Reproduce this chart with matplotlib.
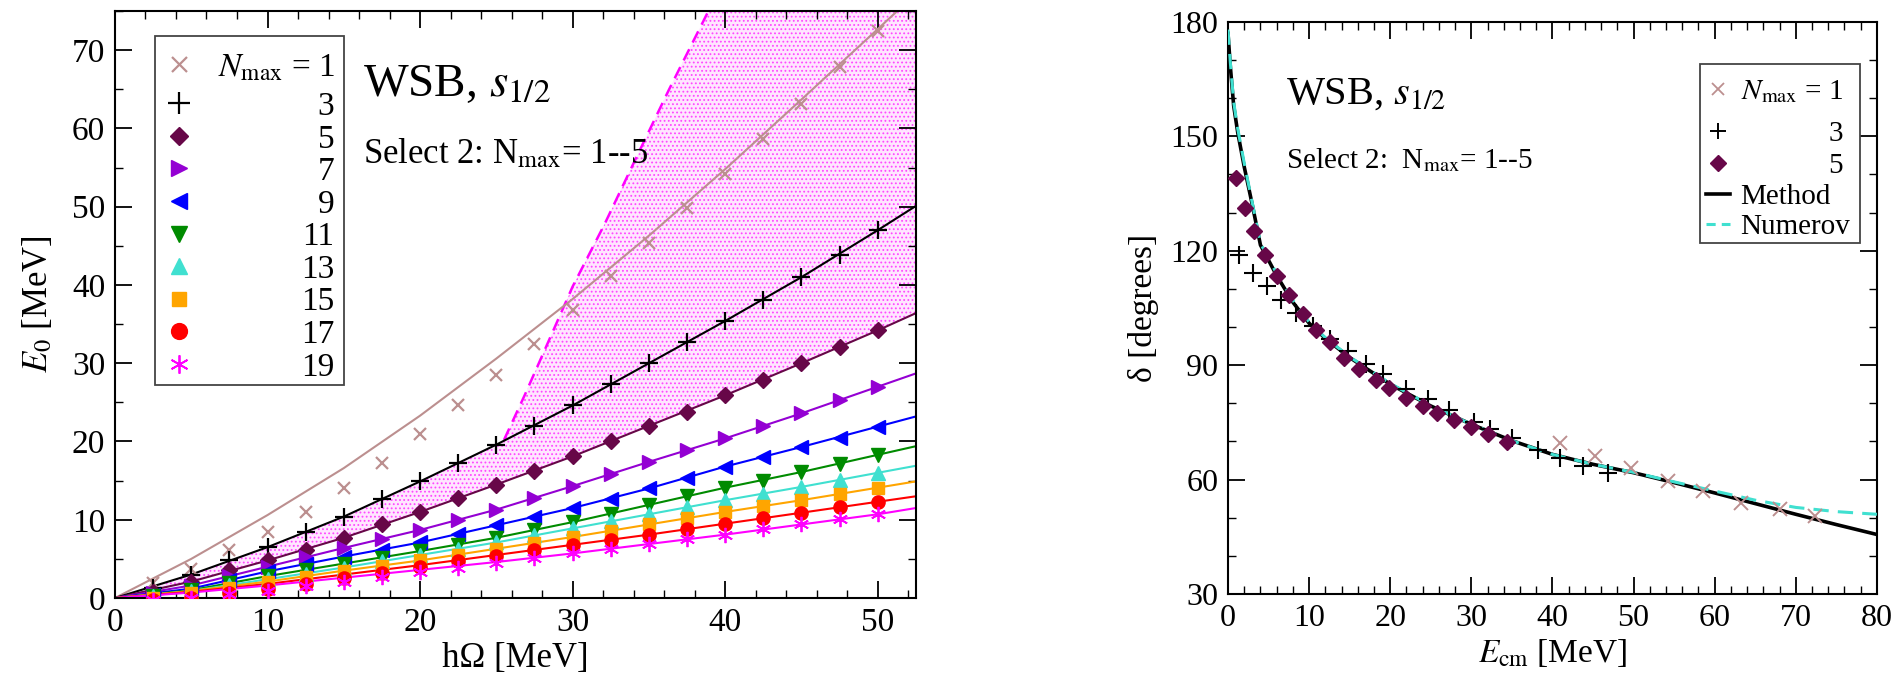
import numpy as np
import matplotlib
matplotlib.use("Agg")
import matplotlib.pyplot as plt
from matplotlib.patches import Rectangle
from matplotlib.ticker import MultipleLocator

plt.rcParams["font.family"] = ["Liberation Serif", "DejaVu Serif"]
plt.rcParams["mathtext.fontset"] = "stix"
plt.rcParams["hatch.color"] = "#ff48ff"
plt.rcParams["hatch.linewidth"] = 0.8

# ---- left panel: ground-state energy E0 vs hbar*Omega ----
hw = [2.5, 5, 7.5, 10, 12.5, 15, 17.5, 20, 22.5, 25,
      27.5, 30, 32.5, 35, 37.5, 40, 42.5, 45, 47.5, 50]
hw_line = [0, 5, 10, 15, 20, 25, 30, 35, 40, 45, 50, 52.5]

nmax = [1, 3, 5, 7, 9, 11, 13, 15, 17, 19]

e0_n1 = [1.9, 3.7, 6.2, 8.5, 11.0, 14.1, 17.3, 20.9, 24.6, 28.5,
         32.5, 36.8, 41.2, 45.4, 49.8, 54.2, 58.7, 63.1, 67.8, 72.5]
e0_n3 = [1.3, 2.9, 4.8, 6.5, 8.5, 10.4, 12.6, 14.9, 17.3, 19.6,
         22.0, 24.6, 27.4, 30.0, 32.7, 35.4, 38.1, 41.0, 43.8, 47.0]
e0_n5 = [0.8, 2.1, 3.6, 4.8, 6.2, 7.7, 9.4, 11.0, 12.8, 14.5,
         16.2, 18.1, 20.0, 22.0, 23.8, 25.9, 27.9, 30.0, 32.1, 34.2]
e0_n7 = [0.6, 1.6, 2.8, 4.0, 5.2, 6.4, 7.5, 8.7, 10.0, 11.3,
         12.8, 14.3, 15.8, 17.4, 18.9, 20.4, 22.0, 23.6, 25.3, 27.0]
e0_n9 = [0.4, 1.2, 2.3, 3.4, 4.4, 5.3, 6.2, 7.1, 8.2, 9.3,
         10.4, 11.5, 12.7, 14.0, 15.3, 16.8, 18.0, 19.3, 20.5, 21.9]
e0_n11 = [0.3, 1.0, 1.9, 2.8, 3.6, 4.4, 5.1, 6.0, 6.8, 7.7,
          8.7, 9.7, 10.8, 11.9, 13.0, 14.1, 15.0, 16.1, 17.1, 18.3]
e0_n13 = [0.2, 0.9, 1.7, 2.4, 3.1, 3.9, 4.7, 5.5, 6.3, 7.1,
          8.0, 8.9, 9.8, 10.7, 11.6, 12.5, 13.3, 14.2, 15.1, 16.0]
e0_n15 = [0.0, 0.6, 1.3, 2.0, 2.7, 3.4, 4.1, 4.8, 5.5, 6.3,
          7.0, 7.8, 8.6, 9.4, 10.2, 11.0, 11.8, 12.5, 13.3, 14.1]
e0_n17 = [-0.3, 0.0, 0.6, 1.1, 1.8, 2.5, 3.2, 4.0, 4.7, 5.4,
          6.1, 6.8, 7.4, 8.1, 8.8, 9.5, 10.2, 10.9, 11.6, 12.3]
e0_n19 = [-0.2, 0.0, 0.5, 0.9, 1.5, 2.1, 2.7, 3.3, 3.9, 4.5,
          5.1, 5.7, 6.3, 6.9, 7.5, 8.1, 8.8, 9.4, 10.1, 10.7]

fit_n1 = [0, 5.0, 10.6, 16.6, 23.3, 30.6, 38.2, 46.3, 54.8, 63.7, 72.7, 77.2]
fit_n3 = [0, 3.0, 6.5, 10.4, 14.9, 19.6, 24.6, 30.0, 35.4, 41.0, 47.0, 50.1]
fit_n5 = [0, 2.1, 4.8, 7.7, 11.0, 14.5, 18.1, 22.0, 25.9, 30.0, 34.2, 36.4]
fit_n7 = [0, 1.6, 4.0, 6.4, 8.7, 11.3, 14.3, 17.4, 20.4, 23.6, 27.0, 28.7]
fit_n9 = [0, 1.2, 3.4, 5.3, 7.1, 9.3, 11.5, 14.0, 16.8, 19.3, 21.9, 23.2]
fit_n11 = [0, 1.0, 2.8, 4.4, 6.0, 7.7, 9.7, 11.9, 14.1, 16.1, 18.3, 19.4]
fit_n13 = [0, 0.9, 2.4, 3.9, 5.5, 7.1, 8.9, 10.7, 12.5, 14.2, 16.0, 16.9]
fit_n15 = [0, 0.9, 2.1, 3.5, 4.8, 6.3, 7.8, 9.4, 11.0, 12.5, 14.1, 14.9]
fit_n17 = [0, 0.8, 1.8, 3.0, 4.2, 5.5, 6.8, 8.1, 9.5, 10.9, 12.3, 13.0]
fit_n19 = [0, 0.7, 1.6, 2.6, 3.6, 4.6, 5.7, 6.9, 8.1, 9.4, 10.7, 11.5]

# edge of the shaded band (dashed magenta)
edge_x = [25.5, 26.9, 28.6, 30.0, 32.1, 34.2, 36.3, 38.9, 52.5]
edge_y = [20.2, 26.1, 33.6, 39.8, 47.8, 56.4, 64.9, 75.0, 75.0]

# ---- right panel: phase shift vs E_cm ----
ecm_curve = [0, 0.3, 0.7, 1.2, 2, 3, 4, 5, 6, 8, 10, 12, 15, 20, 25,
             30, 35, 40, 45, 50, 55, 60, 65, 70, 75, 80]
delta_method = [177, 168, 158, 151, 142, 132, 121.5, 117.5, 113.5, 106.5,
                101, 97, 92, 85, 79.3, 74.5, 70.2, 66.6, 64.0, 61.8,
                59.2, 56.5, 53.7, 50.9, 48.2, 45.6]
delta_numerov = [178, 169, 159, 152, 143, 132.5, 122, 118, 114, 107,
                 101.3, 97.2, 92.2, 85.2, 79.4, 74.5, 70.2, 66.6, 64.0, 61.9,
                 59.4, 57.0, 54.6, 52.7, 51.6, 50.9]

ecm_n1 = [40.9, 45.3, 49.7, 54.2, 58.6, 63.3, 68.0, 72.4]
delta_n1 = [69.6, 66.1, 63.0, 59.6, 57.0, 53.9, 52.2, 50.4]
ecm_n3 = [1.4, 3.1, 4.8, 6.5, 8.4, 10.5, 12.6, 14.8, 17.0, 19.1,
          22.0, 24.7, 27.3, 30.3, 32.3, 35.0, 38.2, 40.9, 43.8, 46.8]
delta_n3 = [119.0, 114.2, 110.7, 107.2, 103.7, 100.2, 96.8, 93.6, 90.4, 87.6,
            83.8, 81.0, 78.3, 75.2, 73.2, 71.0, 67.8, 65.7, 63.5, 61.7]
ecm_n5 = [0.94, 2.1, 3.2, 4.5, 6.0, 7.5, 9.2, 10.9, 12.6, 14.3,
          16.1, 18.2, 19.9, 22.0, 24.1, 25.8, 27.9, 30.0, 32.0, 34.4]
delta_n5 = [139.2, 131.3, 125.2, 119.0, 113.3, 108.5, 103.3, 99.3, 96.0, 91.8,
            89.0, 86.0, 84.0, 81.5, 79.3, 77.5, 75.5, 73.7, 72.0, 69.8]

BROWN = "#bc8f8f"
MAROON = "#670748"
TURQ = "#40e0d0"
MAGENTA = "#ff00ff"
STAR = (6, 2, 0)

left_series = [
    (e0_n1, fit_n1, BROWN, "x", 9, 1.6),
    (e0_n3, fit_n3, "black", "+", 13, 1.6),
    (e0_n5, fit_n5, MAROON, "D", 8, 1),
    (e0_n7, fit_n7, "#9400d3", ">", 10, 1),
    (e0_n9, fit_n9, "#0000ff", "<", 10, 1),
    (e0_n11, fit_n11, "#008b00", "v", 10, 1),
    (e0_n13, fit_n13, TURQ, "^", 10, 1),
    (e0_n15, fit_n15, "#ffa500", "s", 8.5, 1),
    (e0_n17, fit_n17, "#ff0000", "o", 9.5, 1),
    (e0_n19, fit_n19, MAGENTA, STAR, 11, 1.3),
]


def style_axes(ax):
    ax.tick_params(which="both", direction="in", top=True, right=True,
                   labelsize=24, pad=7)
    ax.tick_params(which="major", length=12, width=1.3)
    ax.tick_params(which="minor", length=6, width=1.0)
    for sp in ax.spines.values():
        sp.set_linewidth(1.5)


fig = plt.figure(figsize=(19.03, 6.73), dpi=100)
axL = fig.add_axes([0.0604, 0.1114, 0.4209, 0.8722])
axR = fig.add_axes([0.6453, 0.1174, 0.3410, 0.8500])

# shaded band: above N=5 fit, below N=3 fit / dashed edge
poly_x = list(hw_line[:6]) + edge_x + list(hw_line[::-1])
poly_y = list(fit_n3[:6]) + edge_y + list(fit_n5[::-1])
axL.fill(poly_x, poly_y, facecolor="#ffe6ff", edgecolor="#ff48ff",
         hatch="....", linewidth=0, zorder=1)
axL.plot(edge_x[:-1], edge_y[:-1], color=MAGENTA, ls=(0, (5, 3)), lw=1.8,
         zorder=2)

for pts, fit, col, mk, ms, mew in left_series:
    axL.plot(hw_line, fit, color=col, lw=1.5, zorder=2)
    axL.plot(hw, pts, ls="none", marker=mk, ms=ms, mew=mew, color=col,
             zorder=3)

axL.set_xlim(0, 52.5)
axL.set_ylim(0, 75)
axL.xaxis.set_major_locator(MultipleLocator(10))
axL.xaxis.set_minor_locator(MultipleLocator(2))
axL.yaxis.set_major_locator(MultipleLocator(10))
axL.yaxis.set_minor_locator(MultipleLocator(5))
style_axes(axL)
axL.set_xlabel("hΩ [MeV]", fontsize=25, labelpad=3)
axL.set_ylabel("$E_0$ [MeV]", fontsize=25, labelpad=12)

axL.text(0.31, 0.856, "WSB, $s_{1/2}$", transform=axL.transAxes,
         fontsize=34, va="baseline")
axL.text(0.31, 0.741, "Select 2: N$_{\\rm max}$= 1--5",
         transform=axL.transAxes, fontsize=25, va="baseline")

# hand-drawn key, left panel
axL.add_patch(Rectangle((0.050, 0.363), 0.236, 0.594, transform=axL.transAxes,
                        facecolor="white", edgecolor="#444444", lw=1.3,
                        zorder=5))
key_rows = [0.909] + [0.843 - 0.0555 * i for i in range(9)]
for i, (pts, fit, col, mk, ms, mew) in enumerate(left_series):
    axL.plot([0.080], [key_rows[i]], transform=axL.transAxes, ls="none",
             marker=mk, ms=ms * 1.2, mew=mew, color=col, zorder=6,
             clip_on=False)
    lab = "$N_{\\rm max}$ = %d" % nmax[i] if i == 0 else "%d" % nmax[i]
    axL.text(0.274, key_rows[i], lab, transform=axL.transAxes, fontsize=24,
             ha="right", va="center_baseline", zorder=6)

# ---- right panel ----
axR.plot(ecm_curve, delta_method, color="black", lw=2.6, zorder=2)
axR.plot(ecm_curve, delta_numerov, color=TURQ, lw=2.2, ls=(0, (5, 3)),
         zorder=3)
axR.plot(ecm_n1, delta_n1, ls="none", marker="x", ms=10, mew=1.4,
         color=BROWN, zorder=4)
axR.plot(ecm_n3, delta_n3, ls="none", marker="+", ms=13, mew=1.5,
         color="black", zorder=4)
axR.plot(ecm_n5, delta_n5, ls="none", marker="D", ms=8.5, color=MAROON,
         zorder=4)

axR.set_xlim(0, 80)
axR.set_ylim(30, 180)
axR.xaxis.set_major_locator(MultipleLocator(10))
axR.xaxis.set_minor_locator(MultipleLocator(2))
axR.yaxis.set_major_locator(MultipleLocator(30))
axR.yaxis.set_minor_locator(MultipleLocator(10))
style_axes(axR)
axR.tick_params(labelsize=23)
axR.set_xlabel("$E_{\\rm cm}$ [MeV]", fontsize=24, labelpad=3)
axR.set_ylabel("δ [degrees]", fontsize=24, labelpad=8)

axR.text(0.09, 0.858, "WSB, $s_{1/2}$", transform=axR.transAxes,
         fontsize=29, va="baseline")
axR.text(0.09, 0.745, "Select 2:  N$_{\\rm max}$= 1--5",
         transform=axR.transAxes, fontsize=21, va="baseline")

# hand-drawn key, right panel: text column first, then size the box to it
rkey = [0.883, 0.810, 0.754, 0.700, 0.646]
tx = 0.790
kx = 0.755
t_head = axR.text(tx, rkey[0], "$N_{\\rm max}$ = 1", transform=axR.transAxes,
                  fontsize=21, ha="left", va="center_baseline", zorder=6)
t_num = axR.text(tx, rkey[4], "Numerov", transform=axR.transAxes,
                 fontsize=21, ha="left", va="center_baseline", zorder=6)
axR.text(tx, rkey[3], "Method", transform=axR.transAxes, fontsize=21,
         ha="left", va="center_baseline", zorder=6)
fig.canvas.draw()
inv = axR.transAxes.inverted()
head_end = inv.transform(t_head.get_window_extent().p1)[0]
num_end = inv.transform(t_num.get_window_extent().p1)[0]
for yy, lab in zip(rkey[1:3], ["3", "5"]):
    axR.text(head_end, yy, lab, transform=axR.transAxes, fontsize=21,
             ha="right", va="center_baseline", zorder=6)
box_l = kx - 0.028
box_r = max(head_end, num_end) + 0.014
axR.add_patch(Rectangle((box_l, 0.613), box_r - box_l, 0.314,
                        transform=axR.transAxes, facecolor="white",
                        edgecolor="#444444", lw=1.3, zorder=5))
axR.plot([kx], [rkey[0]], transform=axR.transAxes, marker="x", ms=9,
         mew=1.3, color=BROWN, zorder=6)
axR.plot([kx], [rkey[1]], transform=axR.transAxes, marker="+", ms=11,
         mew=1.4, color="black", zorder=6)
axR.plot([kx], [rkey[2]], transform=axR.transAxes, marker="D", ms=8,
         color=MAROON, zorder=6)
axR.plot([kx - 0.019, kx + 0.019], [rkey[3], rkey[3]],
         transform=axR.transAxes, color="black", lw=2.6, zorder=6)
axR.plot([kx - 0.019, kx + 0.019], [rkey[4], rkey[4]],
         transform=axR.transAxes, color=TURQ, lw=2.2, ls=(0, (3, 2)),
         zorder=6)

fig.savefig("out.png", dpi=100)
